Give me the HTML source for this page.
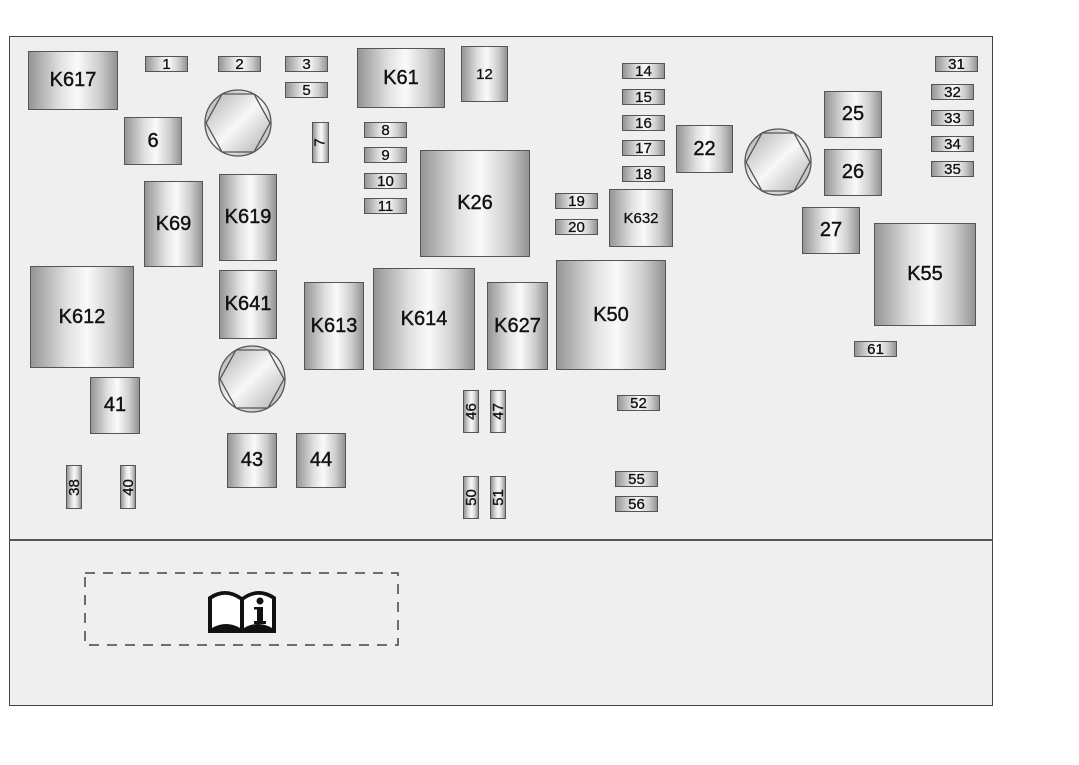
<!DOCTYPE html>
<html><head><meta charset="utf-8"><style>
body{margin:0;width:1079px;height:765px;background:#fff;position:relative;overflow:hidden;font-family:"Liberation Sans",sans-serif}
.panel{position:absolute;left:9px;top:36px;width:982px;height:668px;border:1.5px solid #444;background:#efefef}
.div{position:absolute;left:9px;top:539px;width:984px;height:2px;background:#555}
.b{position:absolute;box-sizing:border-box;border:1.5px solid #555;background:linear-gradient(90deg,#959595 0%,#e0e0e0 35%,#fafafa 55%,#cdcdcd 80%,#939393 100%);display:flex;align-items:center;justify-content:center;color:#111;font-size:20px;-webkit-text-stroke:0.4px #111}
.s{font-size:15px;border-width:1.2px;-webkit-text-stroke:0.3px #111}
.v span{display:inline-block;transform:rotate(-90deg);font-size:15px}
</style></head><body>
<div class="panel"></div>
<div class="div"></div>
<div class="b" style="left:28px;top:51px;width:90px;height:59px">K617</div>
<div class="b s" style="left:145px;top:56px;width:43px;height:16px">1</div>
<div class="b s" style="left:218px;top:56px;width:43px;height:16px">2</div>
<div class="b s" style="left:285px;top:56px;width:43px;height:16px">3</div>
<div class="b s" style="left:285px;top:82px;width:43px;height:16px">5</div>
<div class="b" style="left:357px;top:48px;width:88px;height:60px">K61</div>
<div class="b s" style="left:461px;top:46px;width:47px;height:56px">12</div>
<div class="b" style="left:124px;top:117px;width:58px;height:48px">6</div>
<div class="b s v" style="left:312px;top:122px;width:17px;height:41px"><span>7</span></div>
<div class="b s" style="left:364px;top:122px;width:43px;height:16px">8</div>
<div class="b s" style="left:364px;top:147px;width:43px;height:16px">9</div>
<div class="b s" style="left:364px;top:173px;width:43px;height:16px">10</div>
<div class="b s" style="left:364px;top:198px;width:43px;height:16px">11</div>
<div class="b" style="left:420px;top:150px;width:110px;height:107px">K26</div>
<div class="b s" style="left:622px;top:63px;width:43px;height:16px">14</div>
<div class="b s" style="left:622px;top:89px;width:43px;height:16px">15</div>
<div class="b s" style="left:622px;top:115px;width:43px;height:16px">16</div>
<div class="b s" style="left:622px;top:140px;width:43px;height:16px">17</div>
<div class="b s" style="left:622px;top:166px;width:43px;height:16px">18</div>
<div class="b" style="left:676px;top:125px;width:57px;height:48px">22</div>
<div class="b" style="left:824px;top:91px;width:58px;height:47px">25</div>
<div class="b" style="left:824px;top:149px;width:58px;height:47px">26</div>
<div class="b s" style="left:935px;top:56px;width:43px;height:16px">31</div>
<div class="b s" style="left:931px;top:84px;width:43px;height:16px">32</div>
<div class="b s" style="left:931px;top:110px;width:43px;height:16px">33</div>
<div class="b s" style="left:931px;top:136px;width:43px;height:16px">34</div>
<div class="b s" style="left:931px;top:161px;width:43px;height:16px">35</div>
<div class="b s" style="left:555px;top:193px;width:43px;height:16px">19</div>
<div class="b s" style="left:555px;top:219px;width:43px;height:16px">20</div>
<div class="b s" style="left:609px;top:189px;width:64px;height:58px">K632</div>
<div class="b" style="left:802px;top:207px;width:58px;height:47px">27</div>
<div class="b" style="left:874px;top:223px;width:102px;height:103px">K55</div>
<div class="b" style="left:144px;top:181px;width:59px;height:86px">K69</div>
<div class="b" style="left:219px;top:174px;width:58px;height:87px">K619</div>
<div class="b" style="left:30px;top:266px;width:104px;height:102px">K612</div>
<div class="b" style="left:219px;top:270px;width:58px;height:69px">K641</div>
<div class="b" style="left:304px;top:282px;width:60px;height:88px">K613</div>
<div class="b" style="left:373px;top:268px;width:102px;height:102px">K614</div>
<div class="b" style="left:487px;top:282px;width:61px;height:88px">K627</div>
<div class="b" style="left:556px;top:260px;width:110px;height:110px">K50</div>
<div class="b s" style="left:854px;top:341px;width:43px;height:16px">61</div>
<div class="b" style="left:90px;top:377px;width:50px;height:57px">41</div>
<div class="b s v" style="left:463px;top:390px;width:16px;height:43px"><span>46</span></div>
<div class="b s v" style="left:490px;top:390px;width:16px;height:43px"><span>47</span></div>
<div class="b s" style="left:617px;top:395px;width:43px;height:16px">52</div>
<div class="b" style="left:227px;top:433px;width:50px;height:55px">43</div>
<div class="b" style="left:296px;top:433px;width:50px;height:55px">44</div>
<div class="b s v" style="left:66px;top:465px;width:16px;height:44px"><span>38</span></div>
<div class="b s v" style="left:120px;top:465px;width:16px;height:44px"><span>40</span></div>
<div class="b s v" style="left:463px;top:476px;width:16px;height:43px"><span>50</span></div>
<div class="b s v" style="left:490px;top:476px;width:16px;height:43px"><span>51</span></div>
<div class="b s" style="left:615px;top:471px;width:43px;height:16px">55</div>
<div class="b s" style="left:615px;top:496px;width:43px;height:16px">56</div>
<svg width="1079" height="765" style="position:absolute;left:0;top:0">
<defs><linearGradient id="g" x1="0" y1="0" x2="1" y2="1"><stop offset="0" stop-color="#aaa"/><stop offset=".5" stop-color="#f8f8f8"/><stop offset="1" stop-color="#aaa"/></linearGradient></defs>
<g stroke="#555" stroke-width="1.3" fill="url(#g)">
<circle cx="238" cy="123" r="33"/><polygon points="222,94 254,94 270,123 254,152 222,152 206,123" fill="none"/>
<circle cx="778" cy="162" r="33"/><polygon points="762,133 794,133 810,162 794,191 762,191 746,162" fill="none"/>
<circle cx="252" cy="379" r="33"/><polygon points="236,350 268,350 284,379 268,408 236,408 220,379" fill="none"/>
</g>
<rect x="85" y="573" width="313" height="72" fill="none" stroke="#444" stroke-width="1.5" stroke-dasharray="10,8"/>
<path d="M208,633 L208,597 Q225,585 242,597 Q259,585 276,597 L276,633 Z" fill="#111"/>
<path d="M212,628 L212,599 Q226,590 240,600 L240,628 Q226,620 212,628 Z M244,628 L244,600 Q258,590 272,599 L272,628 Q258,620 244,628Z" fill="#fff"/>
<circle cx="260" cy="601" r="3.5" fill="#111"/>
<rect x="257" y="607" width="6" height="16" fill="#111"/><rect x="254" y="621" width="12" height="3" fill="#111"/><rect x="254" y="607" width="6" height="2.5" fill="#111"/>
</svg>
</body></html>
